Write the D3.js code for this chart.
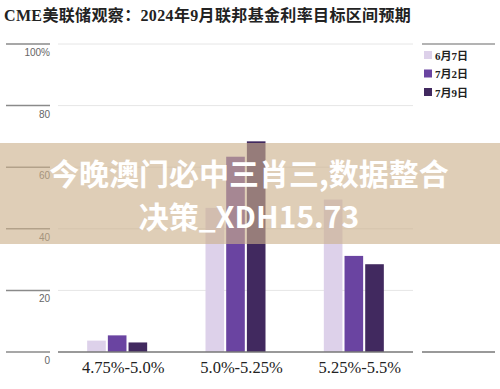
<!DOCTYPE html>
<html><head><meta charset="utf-8">
<script src="https://cdn.jsdelivr.net/npm/d3@7"></script>
<style>
html,body{margin:0;padding:0;background:#fff;}
svg{display:block;}
</style>
</head><body>
<svg id="c" width="500" height="389"></svg>
<script>
const title = "CME美联储观察：2024年9月联邦基金利率目标区间预期";
const categories = ["4.75%-5.0%", "5.0%-5.25%", "5.25%-5.5%"];
const seriesNames = ["6月7日", "7月2日", "7月9日"];
const jun7 = [3.7, 46.8, 49.5];
const jul2 = [5.4, 63.4, 31.2];
const jul9 = [3.1, 68.4, 28.5];
const yTicks = [0, 20, 40, 60, 80, 100];
const yTickLabels = ["0", "20", "40", "60", "80", "100%"];
const colors = ["#ddd1ea", "#6a44a1", "#41295f"];
const overlayLines = ["今晚澳门必中三肖三,数据整合", "决策_XDH15.73"];

const series = [jun7, jul2, jul9];
const svg = d3.select("#c");

const plotLeft = 58, plotRight = 413;
const y = d3.scaleLinear().domain([0, 100]).range([352, 44]);
const x = d3.scaleBand().domain(categories).range([plotLeft, plotRight]).paddingInner(0).paddingOuter(0);
const xs = d3.scaleBand().domain(seriesNames).range([-30, 30]).paddingInner(0.1);

// title
svg.append("text").attr("x", 4).attr("y", 21)
  .attr("font-family", "'Liberation Serif','Noto Sans CJK SC',serif")
  .attr("font-weight", "bold").attr("font-size", 16).attr("letter-spacing", 0.35).attr("fill", "#222")
  .text(title);

// gridlines
svg.append("g").selectAll("line").data(yTicks.filter(d => d > 0)).join("line")
  .attr("x1", plotLeft).attr("x2", plotRight)
  .attr("y1", d => y(d)).attr("y2", d => y(d))
  .attr("stroke", "#e6e6e6").attr("stroke-width", 1);

// right panel top line
svg.append("line").attr("x1", 422).attr("x2", 495).attr("y1", y(100)).attr("y2", y(100))
  .attr("stroke", "#9a9a9a").attr("stroke-width", 1.5);

// left axis: short ticks and labels
const ax = svg.append("g");
ax.selectAll("line").data(yTicks).join("line")
  .attr("x1", 6).attr("x2", 50)
  .attr("y1", d => y(d)).attr("y2", d => y(d))
  .attr("stroke", "#8a8a8a").attr("stroke-width", 1.5);
ax.selectAll("text").data(yTicks).join("text")
  .attr("x", 50).attr("y", d => y(d) + 12)
  .attr("text-anchor", "end")
  .attr("font-family", "'Liberation Sans Narrow','Liberation Sans',sans-serif")
  .attr("font-size", 10).attr("fill", "#666")
  .text((d, i) => yTickLabels[i]);

// bars
const g = svg.append("g");
series.forEach((vals, si) => {
  g.selectAll(".b" + si).data(vals).join("rect")
    .attr("class", "b" + si)
    .attr("x", (d, i) => x(categories[i]) + x.bandwidth() / 2 + xs(seriesNames[si]))
    .attr("width", xs.bandwidth())
    .attr("y", d => y(d))
    .attr("height", d => y(0) - y(d))
    .attr("fill", colors[si]);
});

// baseline
svg.append("line").attr("x1", plotLeft).attr("x2", plotRight).attr("y1", y(0)).attr("y2", y(0))
  .attr("stroke", "#777").attr("stroke-width", 1.5);
svg.append("line").attr("x1", 422).attr("x2", 495).attr("y1", y(0)).attr("y2", y(0))
  .attr("stroke", "#777").attr("stroke-width", 1.5);

// x labels
svg.append("g").selectAll("text").data(categories).join("text")
  .attr("x", d => x(d) + x.bandwidth() / 2 + 6)
  .attr("y", 373)
  .attr("text-anchor", "middle")
  .attr("font-family", "'Liberation Serif',serif")
  .attr("font-size", 16.5).attr("fill", "#222")
  .text(d => d);

// legend
const lg = svg.append("g");
seriesNames.forEach((n, i) => {
  lg.append("rect").attr("x", 424).attr("y", 51 + i * 18.5).attr("width", 8).attr("height", 8).attr("fill", colors[i]);
  lg.append("text").attr("x", 435).attr("y", 59.5 + i * 18.5)
    .attr("font-family", "'Liberation Serif','Noto Sans CJK SC',serif")
    .attr("font-weight", "bold").attr("font-size", 11).attr("fill", "#222")
    .text(n);
});

// overlay band
svg.append("rect").attr("x", 0).attr("y", 143).attr("width", 500).attr("height", 101)
  .attr("fill", "rgb(204,176,138)").attr("fill-opacity", 0.62);
svg.append("g").selectAll("text").data(overlayLines).join("text")
  .attr("x", 249).attr("y", (d, i) => 185 + i * 43)
  .attr("text-anchor", "middle")
  .attr("font-family", "'Noto Sans CJK SC',sans-serif")
  .attr("font-weight", "bold").attr("font-size", 30).attr("fill", "#fff")
  .text(d => d);
</script>
</body></html>
